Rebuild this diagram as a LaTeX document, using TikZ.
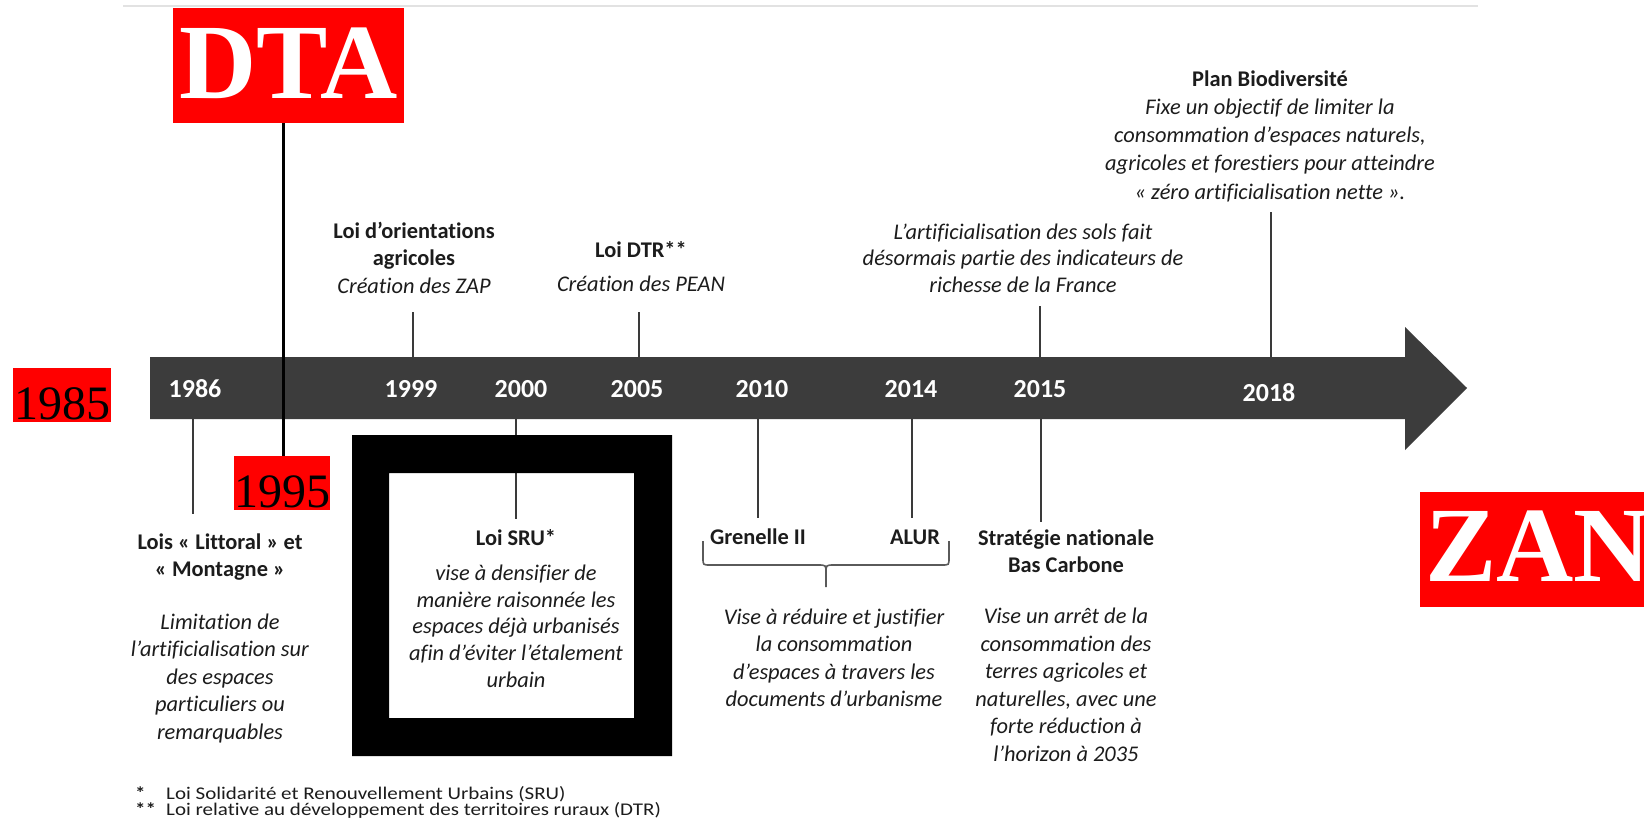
\documentclass[tikz,border=0pt]{standalone}
\usepackage{fontspec}
\setmainfont{Carlito}[Ligatures=NoCommon]
\newfontfamily\timesf{Liberation Serif}
\definecolor{barc}{HTML}{3C3C3C}
\definecolor{tickc}{HTML}{3A3A3A}
\definecolor{txt}{HTML}{1C1C1C}
\definecolor{rulec}{HTML}{E2E2E2}
\definecolor{bracec}{HTML}{5A5A5A}
\tikzset{
  lbl/.style={font=\fontsize{22.4}{27.5}\selectfont, align=center, inner sep=0pt, anchor=north, text=txt},
  one/.style={font=\fontsize{22.4}{27.5}\selectfont\bfseries, inner sep=0pt, anchor=base, text=txt},
  yr/.style={font=\fontsize{26}{30}\selectfont\bfseries, text=white, inner sep=0pt},
  tk/.style={draw=tickc, line width=2pt},
  redbox/.style={fill=red, inner xsep=0pt, inner ysep=0pt},
  fnote/.style={font=\fontsize{21}{18}\selectfont, inner sep=0pt, anchor=base west, text=txt},
  bracestyle/.style={draw=bracec, line width=1.6pt},
}
\begin{document}
\begin{tikzpicture}[x=1pt,y=-1pt]
\useasboundingbox (0,0) rectangle (1644,827);
\fill[white] (0,0) rectangle (1644,827);

% top rule
\coordinate (rl) at (123,6);
\coordinate (rr) at (1478,6);
\draw[rulec, line width=2pt] (rl) -- (rr);

% timeline arrow
\fill[barc] (150,357) -- (1405,357) -- (1405,327) -- (1467,388) -- (1405,450) -- (1405,419) -- (150,419) -- cycle;

% years
\node[yr] (y86) at (195,389) {1986};
\node[yr] (y99) at (411,389) {1999};
\node[yr] (y00) at (521,389) {2000};
\node[yr] (y05) at (637,389) {2005};
\node[yr] (y10) at (762,389) {2010};
\node[yr] (y14) at (911,389) {2014};
\node[yr] (y15) at (1040,389) {2015};
\node[yr] (y18) at (1269,393) {2018};

% tick coordinates
\coordinate (a99) at (413,357);  \coordinate (e99) at (413,312);
\coordinate (a05) at (639,357);  \coordinate (e05) at (639,312);
\coordinate (a15) at (1040,357); \coordinate (e15) at (1040,306);
\coordinate (a18) at (1271,357); \coordinate (e18) at (1271,212);
\coordinate (b86) at (193,419);  \coordinate (f86) at (193,514);
\coordinate (b00) at (516,419);  \coordinate (f00) at (516,519);
\coordinate (b10) at (758,419);  \coordinate (f10) at (758,518);
\coordinate (b14) at (912,419);  \coordinate (f14) at (912,518);
\coordinate (b15) at (1041,419); \coordinate (f15) at (1041,522);
\draw[tk] (a99) -- (e99);
\draw[tk] (a05) -- (e05);
\draw[tk] (a15) -- (e15);
\draw[tk] (a18) -- (e18);
\draw[tk] (b86) -- (f86);
\draw[tk] (b00) -- (f00);
\draw[tk] (b10) -- (f10);
\draw[tk] (b14) -- (f14);
\draw[tk] (b15) -- (f15);

% black frame around Loi SRU
\fill[black, even odd rule] (352,435) rectangle (672,756) (389,473) rectangle (634,718);

% upper texts
\node[lbl] (loa) at (414,218.75) {\textbf{\strut Loi d’orientations}\\\textbf{agricoles}\\\textit{Création des ZAP}};
\node[lbl] (dtr) at (641,237.75) {\textbf{\strut Loi DTR**}\\[6.5pt]\textit{Création des PEAN}};
\node[lbl, font=\fontsize{22.4}{26.5}\selectfont\itshape] (indic) at (1023,220.5) {\strut L’artificialisation des sols fait\\désormais partie des indicateurs de\\richesse de la France};
\node[lbl, font=\fontsize{22.4}{28.2}\selectfont] (plan) at (1270,66.3) {\textbf{\strut Plan Biodiversité}\\\textit{Fixe un objectif de limiter la}\\\textit{consommation d’espaces naturels,}\\\textit{agricoles et forestiers pour atteindre}\\\textit{« zéro artificialisation nette ».}};

% lower texts
\node[lbl] (litt) at (220,529.75) {\textbf{\strut Lois « Littoral » et}\\\textbf{« Montagne »}\\[25pt]\textit{Limitation de}\\\textit{l’artificialisation sur}\\\textit{des espaces}\\\textit{particuliers ou}\\\textit{remarquables}};
\node[lbl, font=\fontsize{22.4}{26.8}\selectfont] (sru) at (516,526.24) {\textbf{\strut Loi SRU*}\\[8.2pt]\textit{vise à densifier de}\\\textit{manière raisonnée les}\\\textit{espaces déjà urbanisés}\\\textit{afin d’éviter l’étalement}\\\textit{urbain}};
\node[one] (gren) at (758,544) {Grenelle II};
\node[one] (alur) at (915,544) {ALUR};
\node[lbl, font=\fontsize{22.4}{27.5}\selectfont\itshape] (red) at (834,604.75) {\strut Vise à réduire et justifier\\la consommation\\d’espaces à travers les\\documents d’urbanisme};
\node[lbl] (snbc) at (1066,525.75) {\textbf{\strut Stratégie nationale}\\\textbf{Bas Carbone}\\[23.5pt]\textit{Vise un arrêt de la}\\\textit{consommation des}\\\textit{terres agricoles et}\\\textit{naturelles, avec une}\\\textit{forte réduction à}\\\textit{l’horizon à 2035}};

% brace under Grenelle II / ALUR
\coordinate (brl) at (703,541);
\coordinate (brr) at (949,541);
\coordinate (brm) at (826,587);
\draw[bracestyle] (brl) -- (703,558) .. controls (703,565) .. (710,565) -- (818,565) .. controls (826,565) .. (826,573) -- (brm);
\draw[bracestyle] (brr) -- (949,558) .. controls (949,565) .. (942,565) -- (834,565) .. controls (826,565) .. (826,573);

% footnotes
\node[fnote] (fn1) at (135,799) {\scalebox{1}[0.85]{\makebox[31pt][l]{\textbf{*}}Loi Solidarité et Renouvellement Urbains (SRU)}};
\node[fnote] (fn2) at (135,815) {\scalebox{1}[0.85]{\makebox[31pt][l]{\textbf{**}}Loi relative au développement des territoires ruraux (DTR)}};

% red labels
\node[redbox, text=white, font=\timesf\bfseries\fontsize{107}{110}\selectfont, text height=90pt, text depth=25pt, minimum width=231pt, anchor=base] (dta) at (288.5,98) {DTA};
\node[redbox, text=black, font=\timesf\fontsize{48}{52}\selectfont, text height=51pt, text depth=3pt, minimum width=98pt, anchor=base] (y1985) at (62,419) {1985};
\node[redbox, text=black, font=\timesf\fontsize{48}{52}\selectfont, text height=51pt, text depth=3pt, minimum width=96pt, anchor=base] (y1995) at (282,507) {1995};
\node[redbox, text=white, font=\timesf\bfseries\fontsize{107}{110}\selectfont, text height=89pt, text depth=26pt, inner xsep=5pt, anchor=base west] (zan) at (1420,581) {ZAN};
\draw[black, line width=3pt] ([xshift=-5.5pt]dta.south) -- ([xshift=1pt]y1995.north);
\end{tikzpicture}
\end{document}
